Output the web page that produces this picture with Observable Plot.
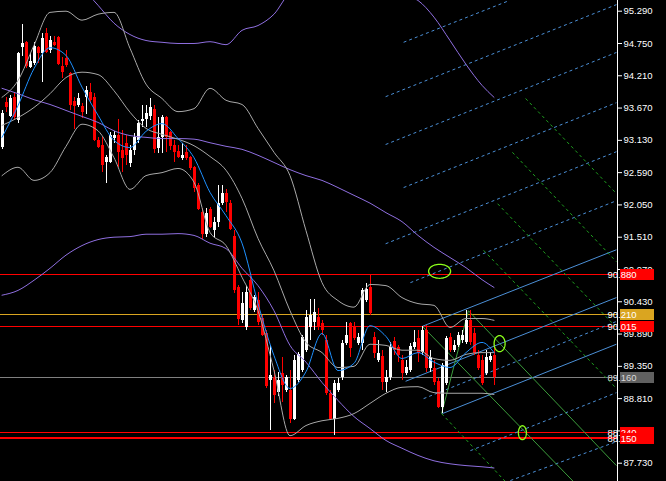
<!DOCTYPE html>
<html><head><meta charset="utf-8">
<script src="https://cdn.jsdelivr.net/npm/d3@7"></script>
<script src="https://cdn.jsdelivr.net/npm/@observablehq/plot@0.6"></script>
<style>
html,body{margin:0;padding:0;background:#000;overflow:hidden;}
#chart svg{display:block;}
</style></head><body><div id="chart"></div>
<script>
// ---- candle data (bar index = position in arrays) ----
const opens = [93.01,93.76,93.53,93.85,93.46,94.68,94.77,94.35,94.42,94.68,94.58,94.92,94.63,94.77,94.85,94.37,94.50,94.25,93.78,93.71,93.70,93.85,93.93,93.85,93.13,93.04,92.76,92.76,93.16,93.21,92.96,93.08,92.74,92.96,93.13,93.45,93.48,93.53,93.65,92.99,93.18,93.51,93.26,93.04,92.94,92.83,92.93,92.84,92.68,92.38,91.92,91.56,91.97,91.62,91.76,92.08,92.24,92.08,91.52,90.67,90.12,90.00,90.79,90.28,90.45,90.15,89.90,89.11,89.16,88.91,89.23,88.95,88.95,88.46,89.11,89.28,89.62,90.00,90.08,90.17,90.07,89.78,88.90,88.46,88.95,89.16,89.73,90.07,90.00,89.73,89.73,90.45,90.67,89.83,89.45,89.52,89.08,89.16,89.77,89.67,89.45,89.23,89.28,89.67,89.82,89.58,89.95,89.31,89.31,89.10,88.66,89.06,89.83,89.62,89.70,89.78,89.75,90.12,89.90,89.53,89.45,89.23,89.45,89.53];
const highs = [93.63,93.85,93.88,93.91,94.60,95.07,94.78,94.58,94.77,94.70,94.92,95.00,94.87,94.87,94.87,94.52,94.63,94.27,93.85,93.91,93.75,94.03,94.08,93.91,93.18,93.18,92.88,93.26,93.28,93.48,93.29,93.21,93.04,93.25,93.46,93.71,93.71,93.83,93.71,93.51,93.55,93.53,93.28,93.13,93.04,93.08,93.04,92.86,92.70,92.40,91.99,91.99,92.01,91.84,92.38,92.38,92.31,92.12,91.62,90.70,90.59,90.69,90.85,90.54,90.59,90.20,89.95,89.70,89.28,89.25,89.50,89.20,89.28,89.53,89.58,89.87,90.28,90.47,90.47,90.32,90.12,89.87,88.95,89.11,89.15,89.78,90.08,90.08,90.08,89.90,90.65,90.74,90.88,89.92,89.78,89.62,89.28,89.75,89.83,89.70,89.53,89.45,89.73,89.95,89.95,90.02,90.03,89.62,89.45,89.15,89.40,89.85,89.90,89.78,89.92,89.95,90.28,90.28,89.98,89.62,89.53,89.62,89.58,89.70];
const lows = [92.98,93.60,93.51,93.46,93.41,94.53,94.33,94.33,94.38,94.42,94.10,94.58,94.58,94.70,94.38,94.17,94.35,93.63,93.31,93.68,93.50,93.56,93.76,93.11,93.00,92.59,92.41,92.74,93.08,92.68,92.59,92.71,92.68,92.88,93.08,93.35,93.35,93.46,92.91,92.91,92.91,92.93,92.96,92.76,92.83,92.79,92.79,92.63,92.26,91.96,91.47,91.51,91.66,91.51,91.67,92.04,91.92,91.62,90.57,90.03,90.07,89.95,90.28,90.25,90.03,89.85,88.98,88.28,88.73,88.85,88.75,88.91,88.39,88.44,89.08,89.25,89.58,89.78,89.95,89.95,89.87,88.86,88.44,88.19,88.91,89.11,89.70,89.50,89.78,89.70,89.62,90.42,90.20,89.48,89.42,88.95,88.91,89.11,89.53,89.42,89.11,89.20,89.25,89.63,89.42,89.53,89.25,89.25,89.03,88.65,88.56,89.03,89.58,89.58,89.67,89.73,89.72,89.70,89.53,89.28,89.03,89.20,89.42,89.03];
const closes = [93.58,93.68,93.83,93.51,94.58,94.75,94.37,94.45,94.70,94.58,94.83,94.60,94.80,94.72,94.40,94.27,94.38,93.71,93.70,93.83,93.60,93.96,93.80,93.13,93.01,92.71,92.84,93.21,93.21,92.93,92.83,92.88,92.96,93.18,93.41,93.48,93.58,93.68,92.98,93.18,93.51,93.18,93.03,92.93,92.84,92.88,92.83,92.66,92.33,91.97,91.56,91.91,91.67,91.76,92.08,92.24,92.09,91.64,90.62,90.13,90.40,90.59,90.32,90.50,90.08,89.87,89.01,89.20,88.86,89.11,89.03,89.16,88.46,89.45,89.55,89.83,90.17,90.20,90.25,90.00,89.95,88.90,88.46,89.06,89.06,89.73,89.87,89.65,89.82,89.83,90.62,90.64,90.23,89.57,89.57,89.08,89.16,89.67,89.62,89.53,89.23,89.33,89.68,89.75,89.57,89.95,89.31,89.50,89.08,88.66,89.37,89.82,89.62,89.70,89.87,89.87,90.12,89.75,89.57,89.31,89.06,89.50,89.52,89.16];

// ---- indicator lines, sampled at these bar indices ----
const bandIdx = [0,4,8,12,16,20,24,28,32,36,40,44,48,52,56,60,64,68,72,76,80,84,88,92,96,100,104,108,112,116,120,123];
const bbUpper = [93.85,94.13,94.72,95.27,95.29,95.14,95.24,95.27,94.67,94.07,93.83,93.61,93.66,94.00,93.80,93.73,93.33,92.93,92.54,91.62,90.75,90.45,90.34,90.72,90.70,90.50,90.40,90.37,90.00,90.15,90.15,90.12];
const bbMiddle = [93.38,93.51,93.68,93.91,94.18,94.27,94.23,93.96,93.60,93.33,93.23,93.15,93.04,92.86,92.63,92.16,91.49,90.95,90.28,89.75,89.58,89.33,89.35,89.72,89.70,89.62,89.62,89.48,89.45,89.55,89.58,89.58];
const bbLower = [92.54,92.68,92.46,92.59,93.03,93.40,93.29,92.84,92.31,92.54,92.59,92.66,92.43,91.59,91.37,90.84,90.28,89.28,88.19,88.36,88.44,88.48,88.56,88.73,88.90,89.00,89.01,88.91,88.90,88.90,88.90,88.88];
const envUpper = [97.46,97.20,96.84,96.47,96.05,95.69,95.39,95.09,94.90,94.80,94.77,94.75,94.75,94.78,94.73,94.97,95.05,95.24,95.59,95.67,95.84,95.90,95.90,95.84,95.74,95.57,95.47,95.19,94.80,94.40,94.05,93.85];
const envMiddle = [94.00,93.91,93.81,93.73,93.63,93.53,93.43,93.29,93.21,93.18,93.16,93.16,93.15,93.09,93.03,92.98,92.88,92.76,92.64,92.54,92.46,92.34,92.21,92.08,91.92,91.77,91.54,91.34,91.17,91.00,90.80,90.67];
const envLower = [90.54,90.62,90.79,90.99,91.21,91.37,91.47,91.51,91.52,91.56,91.56,91.57,91.54,91.41,91.32,90.99,90.70,90.28,89.70,89.42,89.08,88.78,88.51,88.31,88.11,87.98,87.86,87.77,87.72,87.69,87.67,87.65];
const fastMA = [93.18,93.71,94.33,94.68,94.55,94.02,93.55,93.13,93.01,93.28,93.41,93.16,92.84,92.26,91.87,91.41,90.40,89.53,88.98,89.26,89.90,89.28,89.40,90.03,89.85,89.48,89.58,89.42,89.33,89.58,89.75,89.58];

// ---- horizontal price levels ----
const levelPrices = [90.880, 90.210, 90.015, 89.160, 88.240, 88.150];
const levelKinds  = ["alert", "pivot", "alert", "bid", "alert", "alertStrong"];

// ---- right axis tick labels ----
const tickValues = [95.29,94.75,94.21,93.67,93.13,92.59,92.05,91.51,90.97,90.43,89.89,89.35,88.81,88.27,87.73];

// ---- pitchfork / channel lines: [bar1, price1, bar2, price2] ----
const blueSolid = [[105.1,90.02,153.6,91.30],[100.9,89.10,153.6,90.50],[110.1,88.56,153.6,89.72]];
const blueDashed = [[100.4,94.77,126.9,95.47],[95.9,93.86,153.6,95.40],[95.9,93.06,153.6,94.60],[100.4,92.34,153.6,93.76],[95.9,91.40,153.6,92.94],[102.1,90.75,153.6,92.12],[105.4,88.81,153.6,90.10],[117.1,87.94,153.6,88.91],[127.1,87.44,153.6,88.09]];
const greenSolid = [[109.9,88.56,116.6,90.28],[116.6,90.28,153.6,87.69],[105.1,90.02,142.9,87.42]];
const greenDashed = [[130.9,93.83,153.6,92.24],[127.6,92.93,153.6,91.10],[123.9,92.07,153.6,90.00],[120.4,91.29,153.6,88.98],[109.9,88.56,125.9,87.42]];

// ---- ellipse markers: [centre bar, centre price, bar radius, price radius] ----
const ellipses = [[109.4,90.94,2.75,0.117],[124.4,89.73,1.38,0.134],[130.1,88.24,1.0,0.117]];

// ---------- build ----------
const W = 666, H = 481, MR = 49;
const candles = opens.map((o,i)=>({i, open:o, high:highs[i], low:lows[i], close:closes[i], up: closes[i] >= o}));
const levels = levelPrices.map((p,k)=>({price:p, kind:levelKinds[k]}));
const levelColor = {alert:"#ff0000", alertStrong:"#ff0000", pivot:"#daa520", bid:"#808080"};
const series = (vals) => bandIdx.map((b,k)=>({i:b, v:vals[k]}));
const segs = (arr) => arr.map(([a,b,c,d])=>({x1:a,y1:b,x2:c,y2:d}));
const ellPts = [];
ellipses.forEach(([cx,cy,rx,ry],k)=>{ for(let t=0;t<=48;t++){const a=t/48*2*Math.PI; ellPts.push({k, i:cx+rx*Math.cos(a), v:cy+ry*Math.sin(a)});} });

const xDomain = [-0.375, (W - MR - 1.5)/4];
const yDomain = [87.424, 95.469];

const chart = Plot.plot({
  width: W, height: H,
  marginLeft: 0, marginRight: MR, marginTop: 0, marginBottom: 0,
  style: {background:"#000", color:"#fff", fontFamily:"'Liberation Sans', Arial, sans-serif", fontSize:"9.5px"},
  x: {domain: xDomain, axis: null},
  y: {domain: yDomain, axis: "right", ticks: tickValues, tickFormat: d3.format(".3f"), tickSize: 4, tickPadding: 2, label: null},
  marks: [
    Plot.ruleY(levels, {y:"price", stroke: d=>levelColor[d.kind], strokeWidth: d=>d.kind==="alertStrong"?1.6:1, shapeRendering:"crispEdges"}),
    Plot.link(segs(blueDashed), {x1:"x1",y1:"y1",x2:"x2",y2:"y2", stroke:"#4b8fd6", strokeWidth:1, strokeDasharray:"3,3"}),
    Plot.link(segs(blueSolid), {x1:"x1",y1:"y1",x2:"x2",y2:"y2", stroke:"#4b8fd6", strokeWidth:1}),
    Plot.link(segs(greenDashed), {x1:"x1",y1:"y1",x2:"x2",y2:"y2", stroke:"#1fa01f", strokeWidth:1, strokeDasharray:"3,3"}),
    Plot.link(segs(greenSolid), {x1:"x1",y1:"y1",x2:"x2",y2:"y2", stroke:"#3c9c3c", strokeWidth:1}),
    Plot.ruleX(candles, {x:"i", y1:"low", y2:"high", stroke: d=>d.up?"#ffffff":"#ff0000", strokeWidth:1, shapeRendering:"crispEdges"}),
    Plot.ruleX(candles, {x:"i", y1:"open", y2:"close", stroke: d=>d.up?"#ffffff":"#ff0000", strokeWidth:3, shapeRendering:"crispEdges"}),
    Plot.line(series(envUpper), {x:"i", y:"v", stroke:"#8f6fe0", strokeWidth:1, curve:"monotone-x"}),
    Plot.line(series(envMiddle), {x:"i", y:"v", stroke:"#8f6fe0", strokeWidth:1, curve:"monotone-x"}),
    Plot.line(series(envLower), {x:"i", y:"v", stroke:"#8f6fe0", strokeWidth:1, curve:"monotone-x"}),
    Plot.line(series(bbUpper), {x:"i", y:"v", stroke:"#a8a8a8", strokeWidth:1, curve:"monotone-x"}),
    Plot.line(series(bbMiddle), {x:"i", y:"v", stroke:"#a8a8a8", strokeWidth:1, curve:"monotone-x"}),
    Plot.line(series(bbLower), {x:"i", y:"v", stroke:"#a8a8a8", strokeWidth:1, curve:"monotone-x"}),
    Plot.line(series(fastMA), {x:"i", y:"v", stroke:"#1e90ff", strokeWidth:1, curve:"monotone-x"}),
    Plot.line(ellPts, {x:"i", y:"v", z:"k", stroke:"#8cff1a", strokeWidth:1.3}),
    Plot.ruleX([xDomain[1]], {stroke:"#ffffff", strokeWidth:1, shapeRendering:"crispEdges"})
  ]
});
document.getElementById("chart").appendChild(chart);

// price label boxes over the right axis (positioned with the plot's own y scale)
const ys = chart.scale("y");
const yOf = ys.apply ? (v)=>ys.apply(v) : d3.scaleLinear(ys.domain, ys.range);
const boxFill = {alert:"#ff0000", alertStrong:"#ff0000", pivot:"#daa520", bid:"#606060"};
const boxText = {alert:"#ffffff", alertStrong:"#ffffff", pivot:"#ffffff", bid:"#d8d8d8"};
const gBox = d3.select(chart).append("g").attr("font-family","'Liberation Sans', Arial, sans-serif").attr("font-size","9.5px");
levels.forEach(l=>{
  const y = yOf(l.price);
  const x0 = W - MR + 3;
  gBox.append("rect").attr("x", x0).attr("y", Math.round(y) - 5).attr("width", 34).attr("height", 11).attr("fill", boxFill[l.kind]);
  gBox.append("text").attr("x", x0 + 2).attr("y", Math.round(y) + 0.5).attr("dy","0.35em").attr("fill", boxText[l.kind]).text(l.price.toFixed(3));
});
</script>
</body></html>
